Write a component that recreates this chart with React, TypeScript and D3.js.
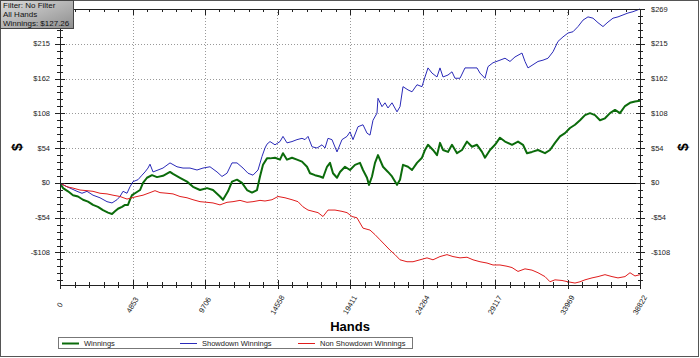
import React from "react";
import * as d3 from "d3";

// ---- data (hands, $) ----
const winnings: [number, number][] = [
[0,0],[201,-8],[535,-13],[870,-19],[1205,-21],[1539,-26],[1874,-29],[2209,-34],[2543,-37],[2878,-42],[3213,-46],[3481,-48],[3681,-44],[3882,-40],[4150,-37],[4351,-34],[4552,-34],[4685,-26],[4819,-19],[5020,-16],[5355,-11],[5556,0],[5823,8],[6158,12],[6493,9],[6894,11],[7363,17],[7564,14],[8032,8],[8501,2],[8902,-6],[9371,-11],[9839,-8],[10241,-11],[10709,-21],[10910,-26],[11245,-13],[11513,2],[11847,5],[12182,0],[12517,-11],[12851,-15],[13186,-11],[13387,10],[13588,28],[13855,38],[14056,38],[14391,39],[14725,36],[14926,46],[15194,36],[15529,39],[15863,36],[16198,33],[16533,25],[16734,15],[17068,12],[17403,10],[17604,8],[17871,25],[18072,31],[18273,15],[18541,8],[18742,17],[19076,25],[19411,20],[19746,28],[20080,31],[20281,20],[20549,8],[20683,-3],[20883,10],[21084,31],[21285,43],[21620,25],[21954,17],[22222,10],[22557,-3],[22758,5],[22958,28],[23293,25],[23561,20],[23895,31],[24230,39],[24431,51],[24632,59],[24966,51],[25234,43],[25435,62],[25636,51],[25970,48],[26238,59],[26573,46],[26907,51],[27242,64],[27577,56],[27911,59],[28246,48],[28447,39],[28782,51],[29116,59],[29451,70],[29786,64],[30254,59],[30656,64],[30990,59],[31258,46],[31593,48],[31994,51],[32463,46],[32798,51],[33132,62],[33467,72],[33802,77],[34136,85],[34471,90],[34806,97],[35141,105],[35475,108],[35810,105],[36144,97],[36479,100],[36814,108],[37148,113],[37483,108],[37818,119],[38152,124],[38487,126],[38822,127.26]
];

const showdownWinnings: [number, number][] = [
[0,0],[201,-3],[669,-8],[1138,-13],[1473,-16],[1807,-13],[2209,-19],[2677,-23],[3146,-29],[3481,-31],[3815,-26],[4016,-21],[4217,-13],[4485,-16],[4685,-6],[4886,2],[5221,5],[5489,12],[5689,17],[5890,23],[6024,29],[6225,17],[6560,20],[6894,23],[7363,31],[7831,25],[8233,23],[8701,23],[9170,20],[9572,23],[10040,25],[10509,17],[10843,10],[11178,15],[11513,31],[11847,31],[12249,23],[12584,15],[12918,12],[13253,20],[13521,41],[13721,54],[13855,60],[14056,64],[14391,59],[14725,64],[14926,72],[15194,62],[15529,64],[15863,67],[16198,69],[16399,67],[16600,72],[16867,56],[17202,54],[17537,59],[17738,54],[17938,69],[18206,67],[18541,48],[18875,67],[19210,72],[19411,79],[19612,67],[19946,87],[20281,90],[20549,77],[20750,74],[20950,97],[21218,108],[21285,131],[21553,118],[21754,124],[21954,116],[22222,124],[22557,110],[22758,118],[22958,149],[23293,144],[23561,141],[23895,152],[24230,149],[24431,164],[24632,178],[24899,170],[25234,164],[25435,178],[25636,164],[25970,167],[26238,172],[26439,162],[26774,162],[27108,178],[27443,178],[27911,178],[28112,170],[28447,162],[28648,180],[28982,186],[29451,190],[29786,193],[30120,188],[30455,195],[30923,201],[31124,188],[31325,178],[31660,183],[31994,188],[32329,190],[32664,193],[32999,203],[33333,219],[33668,226],[34002,232],[34337,234],[34672,242],[35007,252],[35341,257],[35676,255],[36011,248],[36345,242],[36680,249],[37015,255],[37349,257],[37684,260],[38019,263],[38353,265],[38688,268],[38822,269.2]
];

const nonShowdownWinnings: [number, number][] = [
[0,0],[469,-6],[870,-8],[1339,-11],[1807,-12],[2209,-13],[2677,-16],[3146,-17],[3548,-19],[4016,-21],[4485,-25],[4819,-23],[5154,-21],[5556,-19],[6024,-15],[6359,-12],[6693,-15],[7162,-16],[7564,-17],[8032,-21],[8501,-23],[8902,-26],[9371,-29],[9839,-30],[10241,-31],[10709,-34],[11178,-30],[11580,-29],[12048,-27],[12517,-30],[12918,-29],[13387,-27],[13721,-28],[14190,-26],[14592,-21],[15060,-23],[15529,-26],[15930,-29],[16265,-37],[16600,-42],[16934,-44],[17269,-46],[17604,-52],[17938,-42],[18407,-42],[18875,-44],[19210,-46],[19545,-52],[19879,-54],[20080,-62],[20281,-70],[20750,-73],[21084,-80],[21419,-88],[21754,-96],[22088,-104],[22423,-111],[22758,-119],[23226,-122],[23628,-122],[24096,-119],[24565,-116],[24966,-119],[25435,-114],[25903,-111],[26305,-114],[26774,-116],[27242,-115],[27644,-119],[28112,-122],[28581,-124],[28982,-127],[29451,-127],[29920,-129],[30254,-131],[30656,-137],[31124,-133],[31593,-135],[31994,-139],[32463,-145],[32798,-153],[33132,-150],[33601,-151],[34002,-153],[34471,-155],[34806,-153],[35141,-150],[35609,-147],[36011,-145],[36479,-142],[36948,-145],[37349,-147],[37818,-145],[38152,-139],[38487,-144],[38822,-142]
];

const xTickValues = [0, 4853, 9706, 14558, 19411, 24264, 29117, 33969, 38822];
const xTickLabels = ["0", "4853", "9706", "14558", "19411", "24264", "29117", "33969", "38822"];
const yTickValues = [-107.68, -53.84, 0, 53.84, 107.68, 161.52, 215.36, 269.2];
const yTickLabels = ["-$108", "-$54", "$0", "$54", "$108", "$162", "$215", "$269"];
const yMin = -158;
const yMax = 269.2;
const xMax = 38822;

const seriesNames = ["Winnings", "Showdown Winnings", "Non Showdown Winnings"];
const filterLines = ["Filter: No Filter", "All Hands", "Winnings: $127.26"];

const FONT = "'Liberation Sans', Arial, sans-serif";

export default function App() {
  const L = 60, R = 640, T = 9, B = 285;
  const x = d3.scaleLinear().domain([0, xMax]).range([L, R]);
  const y = d3.scaleLinear().domain([yMin, yMax]).range([B, T]);
  const line = d3
    .line<[number, number]>()
    .x((d) => x(d[0]))
    .y((d) => y(d[1]));

  const xMinor: number[] = [];
  for (let i = 0; i <= 40; i++) xMinor.push((i * xMax) / 40);
  const yStep = yTickValues[1] - yTickValues[0];
  const yMinor: number[] = [];
  for (let k = -20; k <= 30; k++) {
    const v = (k * yStep) / 5;
    if (v >= yMin - 0.01 && v <= yMax + 0.01) yMinor.push(v);
  }

  const series = [
    { data: winnings, color: "#0b6b0b", w: 2 },
    { data: showdownWinnings, color: "#2a2ab8", w: 1 },
    { data: nonShowdownWinnings, color: "#e01c1c", w: 1 },
  ];

  const legendItems = [
    { x0: 62, color: "#0b6b0b", w: 2, tx: 84 },
    { x0: 180, color: "#2a2ab8", w: 1, tx: 202 },
    { x0: 298, color: "#e01c1c", w: 1, tx: 320 },
  ];

  return (
    <svg
      width={700}
      height={358}
      style={{ position: "absolute", left: 0, top: 0, background: "#fff" }}
      fontFamily={FONT}
    >
      <defs>
        <linearGradient id="fg" x1="0" y1="0" x2="1" y2="1">
          <stop offset="0" stopColor="#dcdcdc" />
          <stop offset="1" stopColor="#8e8e8e" />
        </linearGradient>
        <clipPath id="plotclip">
          <rect x={L} y={T - 1} width={R - L + 1} height={B - T + 2} />
        </clipPath>
      </defs>
      <rect x={0} y={0} width={700} height={358} fill="#fff" />
      {/* outer frame */}
      <rect x={0.5} y={0.5} width={698} height={356} fill="none" stroke="#555" />

      {/* grid */}
      {xTickValues.slice(1, -1).map((v, i) => (
        <line key={"gx" + i} x1={Math.round(x(v)) + 0.5} x2={Math.round(x(v)) + 0.5} y1={T} y2={B}
          stroke="#999" strokeDasharray="1,2" />
      ))}
      {yTickValues.filter((v) => v !== 0 && v !== yMax).map((v, i) => (
        <line key={"gy" + i} x1={L} x2={R} y1={Math.round(y(v)) + 0.5} y2={Math.round(y(v)) + 0.5}
          stroke="#999" strokeDasharray="1,2" />
      ))}
      {/* zero line */}
      <line x1={L} x2={R} y1={Math.round(y(0)) + 0.5} y2={Math.round(y(0)) + 0.5} stroke="#000" />

      {/* series */}
      <g clipPath="url(#plotclip)">
        {series.map((s, i) => (
          <path key={"s" + i} d={line(s.data) || ""} fill="none" stroke={s.color} strokeWidth={s.w}
            strokeLinejoin="round" />
        ))}
      </g>

      {/* axes lines */}
      <line x1={L + 0.5} x2={L + 0.5} y1={T} y2={B} stroke="#222" />
      <line x1={R + 0.5} x2={R + 0.5} y1={T} y2={B} stroke="#222" />
      <line x1={L} x2={R} y1={B + 0.5} y2={B + 0.5} stroke="#222" />
      <line x1={L} x2={R} y1={T + 0.5} y2={T + 0.5} stroke="#222" />

      {/* x minor / major ticks */}
      {xMinor.map((v, i) => {
        const px = Math.round(x(v)) + 0.5;
        const major = i % 5 === 0;
        return (
          <g key={"xt" + i}>
            <line x1={px} x2={px} y1={B - (major ? 5 : 3)} y2={B + (major ? 4 : 3)} stroke="#222" />
            <line x1={px} x2={px} y1={T} y2={T + (major ? 6 : 3)} stroke="#222" />
          </g>
        );
      })}
      {/* y ticks */}
      {yMinor.map((v, i) => {
        const py = Math.round(y(v)) + 0.5;
        const major = yTickValues.some((t) => Math.abs(t - v) < 0.01);
        return (
          <g key={"yt" + i}>
            <line x1={L - (major ? 5 : 3)} x2={L + (major ? 5 : 3)} y1={py} y2={py} stroke="#222" />
            <line x1={R - (major ? 4 : 2)} x2={R + (major ? 5 : 3)} y1={py} y2={py} stroke="#222" />
          </g>
        );
      })}

      {/* y labels (left $269 is hidden behind the filter box in the reference) */}
      {yTickValues.map((v, i) => (
        <g key={"yl" + i} fontSize={7.5} fill="#222">
          {v !== yMax && (
            <text x={50} y={y(v)} textAnchor="end" dominantBaseline="central">{yTickLabels[i]}</text>
          )}
          <text x={651} y={y(v)} textAnchor="start" dominantBaseline="central">{yTickLabels[i]}</text>
        </g>
      ))}

      {/* x labels */}
      {xTickValues.map((v, i) => (
        <text key={"xl" + i} x={x(v)} y={305} fontSize={7.5} fill="#222" textAnchor="middle"
          dominantBaseline="central" transform={`rotate(-60 ${x(v)} 305)`}>
          {xTickLabels[i]}
        </text>
      ))}

      {/* axis titles */}
      <text x={17} y={147} fontSize={14} fontWeight="bold" textAnchor="middle" dominantBaseline="central"
        transform="rotate(-90 17 147)" fill="#000">$</text>
      <text x={683} y={147} fontSize={14} fontWeight="bold" textAnchor="middle" dominantBaseline="central"
        transform="rotate(-90 683 147)" fill="#000">$</text>
      <text x={350} y={331} fontSize={13} fontWeight="bold" textAnchor="middle" fill="#000">Hands</text>

      {/* legend */}
      <rect x={58.5} y={337.5} width={354} height={11} fill="#fff" stroke="#777" />
      {legendItems.map((it, i) => (
        <g key={"lg" + i}>
          <line x1={it.x0} x2={it.x0 + 17} y1={343.5} y2={343.5} stroke={it.color} strokeWidth={it.w} />
          <text x={it.tx} y={343.5} fontSize={7.5} dominantBaseline="central" fill="#222">{seriesNames[i]}</text>
        </g>
      ))}

      {/* filter box */}
      <rect x={0.5} y={0.5} width={73} height={28} fill="url(#fg)" stroke="#444" />
      {filterLines.map((t, i) => (
        <text key={"fl" + i} x={3} y={8 + i * 9} fontSize={8} fill="#111">{t}</text>
      ))}
    </svg>
  );
}
